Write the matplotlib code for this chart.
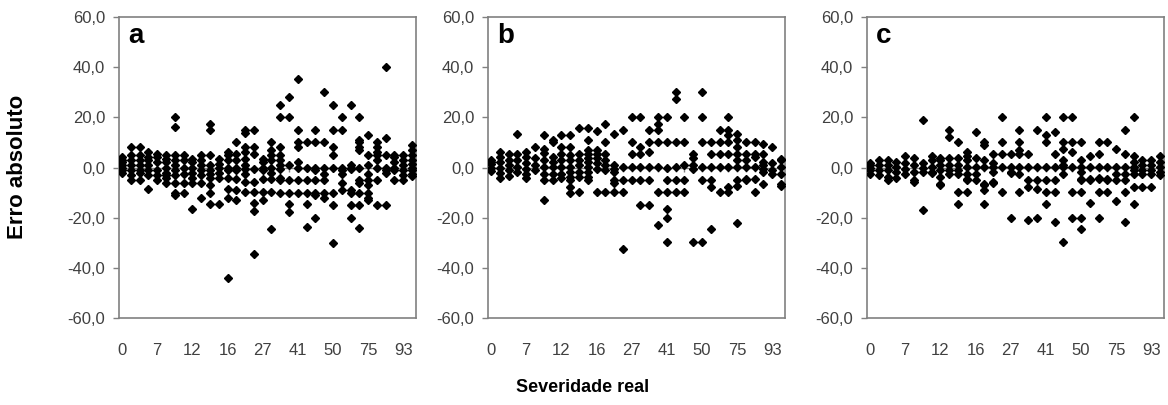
import numpy as np
import matplotlib
matplotlib.use("Agg")
import matplotlib.pyplot as plt
from matplotlib.ticker import FuncFormatter

plt.rcParams['font.family'] = ['Liberation Sans', 'DejaVu Sans']

# categorias de severidade real (%), eixo de categorias
severidade = ['0', '1', '2', '4', '7', '8', '9', '10', '12', '13', '14', '15',
              '16', '18', '20', '25', '27', '30', '32', '38', '41', '43', '45', '48',
              '50', '55', '60', '70', '75', '80', '85', '90', '93', '95']

# erro absoluto lido em cada categoria (uma lista por categoria)
erro_a = [
    [4, 3, 2, 1, 0, -1, -2],
    [8, 5, 3, 1, -1, -3, -5],
    [8, 5, 3, 1, -1, -2, -5],
    [6, 4, 3, 1, -1, -3, -8.7],
    [5.5, 4, 2, -1, -3, -5],
    [5, 3.5, 2, 0, -2, -3, -4, -6],
    [20, 16, 5, 3, 1, -1, -3, -6, -10, -11],
    [5, 3, 0, -2.5, -6, -10],
    [3.5, 2, 0, -2, -4, -6, -16.7],
    [5, 3, 1, -1, -3, -6, -12],
    [17.5, 15, 5, 1, -1, -2.5, -4, -7, -10, -14.7],
    [3.5, 1.5, 0, -2, -4, -14.7],
    [6, 5, 3, 0, -1, -4, -8.5, -12, -44],
    [10, 5.5, 3, 0, -1, -4.5, -9, -13],
    [15, 13.7, 8, 6, 3.5, 1, -0.5, -2.5, -5.7, -9.7],
    [15, 8, 5.5, -0.5, -5.7, -9.7, -14, -17.5, -34.5],
    [3.5, 2, 0, -1, -4.5, -9.7, -13],
    [10, 7, 5, 3, 0, -2, -4.5, -9.7, -24.6],
    [25, 20, 8, 5, 3, 1, -0.5, -4, -5, -10],
    [28, 20, 1, -5, -10, -14.6, -17.6],
    [35.3, 15, 10, 8, 2, 0, -5, -10],
    [10, 0, -5, -10, -14.6, -23.6],
    [15, 10, 0, -1, -5, -10, -11, -20],
    [30, 10, 0, -2.5, -5, -10, -12],
    [25, 15, 8, 5, 0, -10, -15, -30],
    [20, 15, 0, -1, -2.5, -6, -9],
    [25, 1, 0, -0.5, -9, -10, -15, -20],
    [20, 11, 10, 8, 7, 0, -5, -6, -10, -15, -24],
    [13, 5, 1, -2.5, -5, -7, -10, -12, -13],
    [10, 8, 6, 5, 3, 0, -5, -15],
    [40, 11.6, 5, 0, -1, -2, -15],
    [5, 4, 2, 0, -1, -5],
    [5, 3, 1, -1, -3, -5],
    [9, 7, 5, 3, 1.5, 0, -1, -2.5, -3.5],
]

erro_b = [
    [3, 2, 1.5, 0, -1.5],
    [6, 4, 2, 0, -2, -4],
    [5.5, 3, 1, -1, -3.5],
    [13.4, 5.3, 3, 0.3, -1.7],
    [6, 4.3, 1.6, -0.4, -2.4, -4],
    [8, 3.6, 0.9, -1.1],
    [13, 7.5, 5.6, 2.9, 0.3, -2.4, -5, -13],
    [11, 10, 4.3, 2.3, 0.3, -2.4, -5],
    [13, 8, 5.5, 2.9, 0.3, -2.4, -4],
    [13, 8, 4.9, 2.9, 0.3, -1.7, -3.7, -5, -7.6, -10.3],
    [15.7, 5.5, 2.9, 0.9, -1.7, -3.7, -9.6],
    [15.7, 11, 7, 5.5, 3.6, 2.3, 0.3, -1.7, -3.7, -5],
    [14.4, 7, 5.5, 3.6, 1.6, -0.4, -9.6],
    [17.4, 10, 5.5, 2.9, 0.9, -1.1, -9.6],
    [13.4, 0.9, -0.4, -1.7, -5, -6, -9.6],
    [15, 0.3, -5, -9.6, -32.6],
    [20, 10, 5.5, 0.3, -5],
    [20, 8, 5.5, 0.3, -5, -15],
    [15, 10, 6, 0.3, -5, -15],
    [20, 17.4, 15, 10, 0.3, -9.6, -23],
    [20, 10, 0, -5, -9.6, -16.7, -20, -29.6],
    [30.2, 27.5, 10, 0.3, -5, -9.6],
    [20, 10, 1, -5, -9.6],
    [5.5, 3.6, 1, -0.4, -29.6],
    [30.2, 20, 10, 0.3, -5, -29.6],
    [10, 5.5, 0.3, -5, -7.6, -24.7],
    [15, 10, 5.5, 0.3, -9.6],
    [20, 15, 13, 10, 5.5, 0.3, -7.6, -9.6],
    [13.4, 11, 8, 5.5, 2.9, 0.3, -5, -7.4, -22.3],
    [10, 5.5, 2.9, 0.3, -4.4, -5],
    [10, 5.5, 4, 0.3, -4.4, -9.6],
    [9.3, 5.5, 2.3, 0.9, -0.4, -1.7, -6.4],
    [8, 1.6, -1.1, -2.4],
    [3.5, 2.9, 0.3, -2.5, -6.4, -7.5],
]

erro_c = [
    [1.6, 1, 0, -1, -2.4],
    [2.9, 1, -1, -3],
    [3, 1, -1, -3.7, -5],
    [2.3, 0.3, -1.7, -4],
    [4.5, 1.6, -0.4, -2.4],
    [3.6, 1, -1.7, -5, -5.7],
    [19, 1.6, 0, -1.7, -17],
    [4.5, 2.9, 0.3, -1.7, -2.3],
    [3, 3.6, 1, -1, -3.7, -6.4, -7],
    [15, 12, 3.6, 1, -1, -2.4],
    [10, 3.6, 1, -1, -2.4, -9.6, -14.7],
    [6, 4.5, 2.9, 0.3, -2.4, -4.4, -5, -9.6],
    [14, 3.6, 0.3, -2.4, -5],
    [10, 9, 2.9, 0.3, -6.4, -7, -9, -14.7],
    [5.5, 1.6, 0.3, -1.7, -5.7, -6.3],
    [20, 10, 5.5, 0.3, -9.6],
    [5.5, 0.3, -1.7, -2.3, -20],
    [15, 10, 7, 5.5, 0.3, -2.4, -9.6],
    [5.5, 0.3, -5, -7.6, -21],
    [15, 0.3, -5, -8.7, -20],
    [20, 13, 10, 0.3, -5, -9.6, -14.7],
    [14, 5.5, 0.3, -5, -9.6, -21.9],
    [20, 10, 7.5, 3, 0.9, 0.3, -2.4, -29.6],
    [20, 10, 6, 0.3, -9.6, -20],
    [10, 3, 0.3, -1.7, -4.4, -5, -9.6, -20, -24.7],
    [4.5, 0.3, -4.4, -5, -14],
    [10, 5.5, 0.3, -4, -4.4, -9.6, -20],
    [10, 0.3, -4.4, -5, -9.6],
    [7.5, 0.3, -2.4, -5, -13.4],
    [15, 5.5, 0.3, -2.4, -5, -9.6, -21.9],
    [20, 4.5, 2.3, 0.3, -1.1, -2.4, -7.6, -14.7],
    [2.9, 0.9, -1.1, -2.4, -7.6],
    [2.9, 0.9, -1.1, -2.4, -7.6],
    [4.5, 2.3, 0.3, -1.7, -3.1],
]

paineis = ['a', 'b', 'c']
yticks = [-60, -40, -20, 0, 20, 40, 60]

cinza = '#808080'
fig = plt.figure(figsize=(11.68, 4.05), dpi=100)
lefts = [119, 488, 867]
n = len(severidade)
pos = np.arange(n)

for k, (letra, erro) in enumerate(zip(paineis, [erro_a, erro_b, erro_c])):
    ax = fig.add_axes([lefts[k] / 1168, 1 - 318 / 405, 297 / 1168, 301 / 405])
    xs = np.repeat(pos, [len(c) for c in erro])
    ys = np.concatenate([np.array(c, dtype=float) for c in erro])

    ax.axhline(0, color=cinza, lw=1, zorder=1)
    ax.plot(pos, np.zeros(n), ls='none', marker=3, ms=3, mew=1, color=cinza, zorder=1)
    ax.plot(xs, ys, ls='none', marker='D', ms=4.3, color='black', zorder=3)

    ax.set_xlim(-0.35, n - 1 + 0.45)
    ax.set_ylim(-60, 60)
    ax.set_yticks(yticks)
    ax.yaxis.set_major_formatter(FuncFormatter(lambda v, p: ('%.1f' % v).replace('.', ',')))
    ax.set_xticks(pos[::4])
    ax.set_xticklabels(severidade[::4])
    ax.tick_params(axis='y', direction='out', length=4, width=1, color=cinza,
                   labelsize=12, labelcolor='#404040', pad=6)
    ax.tick_params(axis='x', length=0, labelsize=12, labelcolor='#404040', pad=18)
    for s in ax.spines.values():
        s.set_color(cinza)
        s.set_linewidth(1.2)
    ax.text(0.03, 0.914, letra, transform=ax.transAxes, fontsize=20,
            fontweight='bold', va='baseline', ha='left')

fig.text(18 / 1168, 1 - 167 / 405, 'Erro absoluto', rotation=90, fontsize=16,
         fontweight='bold', ha='center', va='center')
fig.text(583 / 1168, 1 - 387 / 405, 'Severidade real', fontsize=13,
         fontweight='bold', ha='center', va='center')

fig.savefig('out.png', dpi=100)
